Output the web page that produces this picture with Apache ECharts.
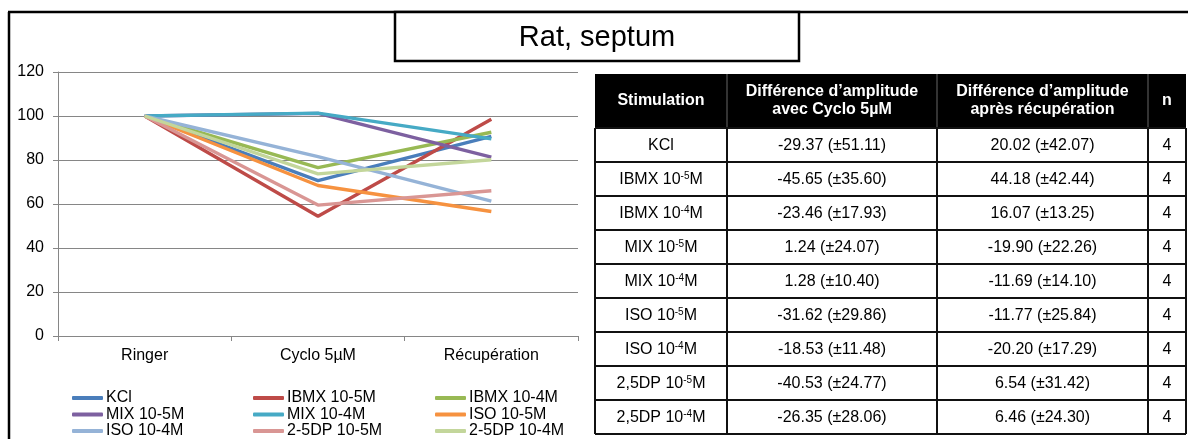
<!DOCTYPE html>
<html><head><meta charset="utf-8">
<script src="https://cdn.jsdelivr.net/npm/echarts@6/dist/echarts.min.js"></script>
<style>html,body{margin:0;padding:0;background:#fff}#c{width:1188px;height:439px}</style>
</head><body><div id="c"></div>
<script>
// ---- chart data ----
const categories = ['Ringer', 'Cyclo 5µM', 'Récupération'];
const seriesNames = ['KCl', 'IBMX 10-5M', 'IBMX 10-4M', 'MIX 10-5M', 'MIX 10-4M', 'ISO 10-5M', 'ISO 10-4M', '2-5DP 10-5M', '2-5DP 10-4M'];
const kcl   = [100, 70.6, 90.7];
const ibmx5 = [100, 54.4, 98.5];
const ibmx4 = [100, 76.5, 92.6];
const mix5  = [100, 101.2, 81.3];
const mix4  = [100, 101.3, 89.6];
const iso5  = [100, 68.4, 56.6];
const iso4  = [100, 81.5, 61.3];
const dp5   = [100, 59.5, 66.0];
const dp4   = [100, 73.7, 80.1];
const seriesValues = [kcl, ibmx5, ibmx4, mix5, mix4, iso5, iso4, dp5, dp4];
const yMin = 0, yMax = 120, yStep = 20;
const chartTitle = 'Rat, septum';

// ---- table data ----
const tableHeader = ['Stimulation', 'Différence d’amplitude\navec Cyclo 5µM', 'Différence d’amplitude\naprès récupération', 'n'];
const tableStim = ['KCl', 'IBMX 10-5M', 'IBMX 10-4M', 'MIX 10-5M', 'MIX 10-4M', 'ISO 10-5M', 'ISO 10-4M', '2,5DP 10-5M', '2,5DP 10-4M'];
const diffCyclo = ['-29.37 (±51.11)', '-45.65 (±35.60)', '-23.46 (±17.93)', '1.24 (±24.07)', '1.28 (±10.40)', '-31.62 (±29.86)', '-18.53 (±11.48)', '-40.53 (±24.77)', '-26.35 (±28.06)'];
const diffRecup = ['20.02 (±42.07)', '44.18 (±42.44)', '16.07 (±13.25)', '-19.90 (±22.26)', '-11.69 (±14.10)', '-11.77 (±25.84)', '-20.20 (±17.29)', '6.54 (±31.42)', '6.46 (±24.30)'];
const nValues = [4, 4, 4, 4, 4, 4, 4, 4, 4];

// ---- styling ----
const colors = ['#4A7EBB', '#BE4B48', '#98B954', '#7D60A0', '#46AAC5', '#F69240', '#95B3D7', '#D99694', '#C3D69B'];
const FONT = '"Liberation Sans", Arial, sans-serif';

const chart = echarts.init(document.getElementById('c'), null, {renderer: 'canvas'});

// table geometry
const colX = [595, 727, 937, 1148, 1186];
const tTop = 74, headH = 54, rowH = 34;
const els = [];
// frame
els.push({type: 'line', shape: {x1: 9, y1: 12, x2: 9, y2: 440}, style: {stroke: '#000', lineWidth: 2.5}});
els.push({type: 'line', shape: {x1: 8, y1: 12, x2: 1188, y2: 12}, style: {stroke: '#000', lineWidth: 2.5}});
// title box
els.push({type: 'rect', shape: {x: 395, y: 12, width: 404, height: 49}, style: {fill: '#fff', stroke: '#000', lineWidth: 2.5}, z: 10});
els.push({type: 'text', x: 597, y: 38, z: 11, style: {text: chartTitle, font: '29px ' + FONT, fill: '#000', textAlign: 'center', textVerticalAlign: 'middle'}});
// header
els.push({type: 'rect', shape: {x: colX[0], y: tTop, width: colX[4] - colX[0], height: headH}, style: {fill: '#000'}});
for (let c = 1; c < 4; c++) {
  els.push({type: 'line', shape: {x1: colX[c], y1: tTop, x2: colX[c], y2: tTop + headH}, style: {stroke: '#666', lineWidth: 1}});
}
for (let c = 0; c < 4; c++) {
  els.push({type: 'text', x: (colX[c] + colX[c + 1]) / 2, y: tTop + headH / 2, z: 12,
    style: {text: tableHeader[c], font: 'bold 16px ' + FONT, lineHeight: 18, fill: '#fff', textAlign: 'center', textVerticalAlign: 'middle'}});
}
// body
const bodyTop = tTop + headH;
const nRows = tableStim.length;
for (let r = 0; r <= nRows; r++) {
  const y = bodyTop + r * rowH;
  els.push({type: 'line', shape: {x1: colX[0], y1: y, x2: colX[4], y2: y}, style: {stroke: '#111', lineWidth: 2}});
}
for (let c = 0; c < colX.length; c++) {
  els.push({type: 'line', shape: {x1: colX[c], y1: bodyTop, x2: colX[c], y2: bodyTop + nRows * rowH}, style: {stroke: '#111', lineWidth: 2}});
}
function supText(s) { return s.replace(/10(-\d)M/, '10{sup|$1}M'); }
for (let r = 0; r < nRows; r++) {
  const cy = bodyTop + r * rowH + rowH / 2 + 1;
  const cells = [supText(tableStim[r]), diffCyclo[r], diffRecup[r], String(nValues[r])];
  for (let c = 0; c < 4; c++) {
    els.push({type: 'text', x: (colX[c] + colX[c + 1]) / 2, y: cy, z: 12,
      style: {text: cells[c], font: '16px ' + FONT, fill: '#000', textAlign: 'center', textVerticalAlign: 'middle',
        rich: {sup: {fontSize: 10, fontFamily: FONT, fill: '#000', verticalAlign: 'top', lineHeight: 18}}}});
  }
}

// legend layout: 3 columns x 3 rows, row-major order of seriesNames
const legendLeft = [67, 248, 430];
const legendTop0 = 385, legendRowStep = 16.5;
const legends = seriesNames.map((name, k) => ({
  orient: 'horizontal', left: legendLeft[k % 3], top: legendTop0 + Math.floor(k / 3) * legendRowStep,
  data: [name], icon: 'roundRect', itemWidth: 31, itemHeight: 4, itemGap: 0,
  textStyle: {fontSize: 16, lineHeight: 16, color: '#000', fontFamily: FONT, padding: [0, 0, 0, -2]},
  selectedMode: false
}));

const option = {
  animation: false,
  color: colors,
  textStyle: {fontFamily: FONT},
  grid: {left: 58, right: 1188 - 578, top: 72, bottom: 439 - 336, containLabel: false},
  xAxis: {
    type: 'category', data: categories, boundaryGap: true,
    axisLine: {lineStyle: {color: '#868686', width: 1}},
    axisTick: {show: true, length: 5, lineStyle: {color: '#868686'}},
    axisLabel: {color: '#000', fontSize: 16, margin: 12, fontFamily: FONT},
    splitLine: {show: false}
  },
  yAxis: {
    type: 'value', min: yMin, max: yMax, interval: yStep,
    axisLine: {show: true, lineStyle: {color: '#868686', width: 1}},
    axisTick: {show: true, length: 5, lineStyle: {color: '#868686'}},
    axisLabel: {color: '#000', fontSize: 16, margin: 14, fontFamily: FONT},
    splitLine: {lineStyle: {color: '#868686', width: 1}}
  },
  legend: legends,
  series: seriesNames.map((name, i) => ({
    name, type: 'line', data: seriesValues[i], symbol: 'none', smooth: false,
    lineStyle: {width: 3.4, color: colors[i]}, itemStyle: {color: colors[i]}
  })),
  graphic: {elements: els}
};
chart.setOption(option);
</script>
</body></html>
